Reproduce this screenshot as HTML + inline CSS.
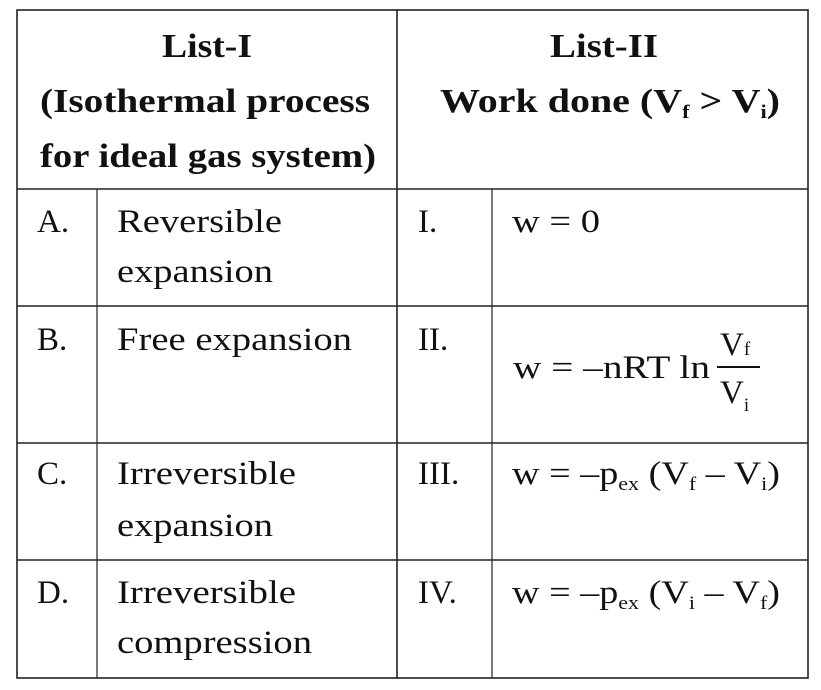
<!DOCTYPE html>
<html><head><meta charset="utf-8"><style>
html,body{margin:0;padding:0;background:#fff;width:821px;height:690px;overflow:hidden}
svg{display:block}
text{font-family:"Liberation Serif",serif;font-size:33px;fill:#111}
.b{font-weight:bold;font-size:34px}
.s{font-size:19px}
</style></head><body>
<svg width="821" height="690" viewBox="0 0 821 690">
<g stroke="#222" stroke-width="1.6" fill="none">
<rect x="17" y="10" width="791" height="668"/>
<line x1="17" y1="189" x2="808" y2="189"/>
<line x1="17" y1="306" x2="808" y2="306"/>
<line x1="17" y1="443" x2="808" y2="443"/>
<line x1="17" y1="560" x2="808" y2="560"/>
<line x1="397" y1="10" x2="397" y2="678"/>
<line x1="97" y1="189" x2="97" y2="678" stroke-width="1.2"/>
<line x1="492" y1="189" x2="492" y2="678" stroke-width="1.2"/>
</g>
<text class="b" x="162" y="57" textLength="90" lengthAdjust="spacingAndGlyphs">List-I</text>
<text class="b" x="40" y="112" textLength="330" lengthAdjust="spacingAndGlyphs">(Isothermal process</text>
<text class="b" x="40" y="167" textLength="336" lengthAdjust="spacingAndGlyphs">for ideal gas system)</text>
<text class="b" x="550" y="57" textLength="108" lengthAdjust="spacingAndGlyphs">List-II</text>
<text class="b" x="440" y="112" textLength="340" lengthAdjust="spacingAndGlyphs">Work done (V<tspan class="s" dy="6">f</tspan><tspan dy="-6"> &gt; V</tspan><tspan class="s" dy="6">i</tspan><tspan dy="-6">)</tspan></text>

<text x="37" y="232">A.</text>
<text x="117" y="232" textLength="165" lengthAdjust="spacingAndGlyphs">Reversible</text>
<text x="117" y="282" textLength="156" lengthAdjust="spacingAndGlyphs">expansion</text>
<text x="418" y="232">I.</text>
<text x="512" y="232" textLength="88" lengthAdjust="spacingAndGlyphs">w = 0</text>

<text x="37" y="350">B.</text>
<text x="117" y="350" textLength="235" lengthAdjust="spacingAndGlyphs">Free expansion</text>
<text x="418" y="350">II.</text>
<text x="513" y="378" textLength="197" lengthAdjust="spacingAndGlyphs">w = –nRT ln</text>
<line x1="717" y1="367" x2="760" y2="367" stroke="#111" stroke-width="2"/>
<text x="720" y="355">V<tspan class="s">f</tspan></text>
<text x="720" y="403">V<tspan class="s" dy="8">i</tspan></text>

<text x="37" y="484">C.</text>
<text x="117" y="484" textLength="179" lengthAdjust="spacingAndGlyphs">Irreversible</text>
<text x="117" y="536" textLength="156" lengthAdjust="spacingAndGlyphs">expansion</text>
<text x="418" y="484">III.</text>
<text x="512" y="484" textLength="268" lengthAdjust="spacingAndGlyphs">w = –p<tspan class="s" dy="6">ex</tspan><tspan dy="-6"> (V</tspan><tspan class="s" dy="6">f</tspan><tspan dy="-6"> – V</tspan><tspan class="s" dy="6">i</tspan><tspan dy="-6">)</tspan></text>

<text x="37" y="603">D.</text>
<text x="117" y="603" textLength="179" lengthAdjust="spacingAndGlyphs">Irreversible</text>
<text x="117" y="653" textLength="195" lengthAdjust="spacingAndGlyphs">compression</text>
<text x="418" y="603">IV.</text>
<text x="512" y="603" textLength="268" lengthAdjust="spacingAndGlyphs">w = –p<tspan class="s" dy="6">ex</tspan><tspan dy="-6"> (V</tspan><tspan class="s" dy="6">i</tspan><tspan dy="-6"> – V</tspan><tspan class="s" dy="6">f</tspan><tspan dy="-6">)</tspan></text>
</svg>
</body></html>
